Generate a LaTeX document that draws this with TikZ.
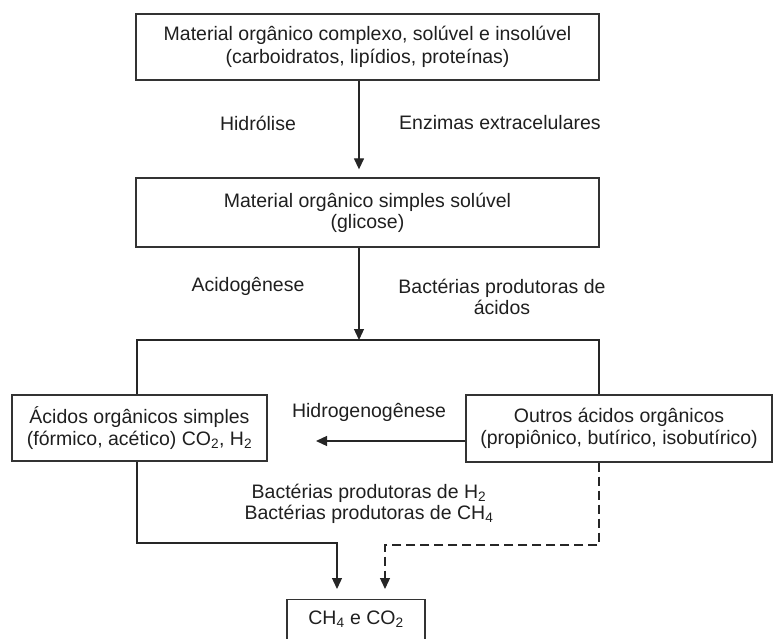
\documentclass[tikz,border=0pt]{standalone}
\usepackage{fontspec}
\setmainfont{Liberation Sans}
\usetikzlibrary{arrows.meta,calc}
\begin{document}
\begin{tikzpicture}[x=1pt,y=-1pt,
  txt/.style={font=\fontsize{19.5}{22.5}\selectfont, text=black!88},
  box/.style={txt, draw=black!80, line width=1.3pt, align=center, inner sep=0pt},
  lbl/.style={txt, align=center, inner sep=0pt},
  conn/.style={line width=1.3pt, draw=black!85},
  arr/.style={conn, -{Triangle[width=10pt,length=11pt]}},
  dashconn/.style={dash pattern=on 9pt off 5pt}]
\useasboundingbox (0,0) rectangle (774,639);
\clip (0,0) rectangle (774,639);
% boxes
\node[box, minimum width=463pt, minimum height=66pt] (top) at (367.5,47)
  {Material orgânico complexo, solúvel e insolúvel\\(carboidratos, lipídios, proteínas)};
\node[box, minimum width=463pt, minimum height=69pt] (mid) at (367.5,212.5)
  {Material orgânico simples solúvel\\[-1.5pt](glicose)};
\node[box, minimum width=255pt, minimum height=66pt] (left) at (139.5,428)
  {Ácidos orgânicos simples\\(fórmico, acético) CO\textsubscript{2}, H\textsubscript{2}};
\node[box, minimum width=306pt, minimum height=67pt] (right) at (619,428.5)
  {Outros ácidos orgânicos\\(propiônico, butírico, isobutírico)};
\node[box, minimum width=138pt, text height=25pt, text depth=27pt, anchor=north] (ch4) at (356,599)
  {CH\textsubscript{4} e CO\textsubscript{2}};
% labels
\node[lbl] (hid) at (258,123) {Hidrólise};
\node[lbl] (enz) at (500,123) {Enzimas extracelulares};
\node[lbl] (acid) at (248,286) {Acidogênese};
\node[lbl] (bpa) at (502,296.5) {Bactérias produtoras de\\[-1.5pt]ácidos};
\node[lbl] (hgn) at (369,412) {Hidrogenogênese};
\node[lbl] (bph) at (369,503.5) {Bactérias produtoras de H\textsubscript{2}\\[-1.5pt]Bactérias produtoras de CH\textsubscript{4}};
% coordinates
\coordinate (h1) at (359,340);
\coordinate (jl) at (137,340);
\coordinate (jr) at (599,340);
\coordinate (hg) at (316,441);
\coordinate (bl) at (137,543);
\coordinate (br) at (599,545);
\coordinate (ch4l) at (337,589);
\coordinate (ch4r) at (385,589);
% connectors
\draw[arr] (top.south -| h1) -- ([yshift=8pt]mid.north -| h1);
\draw[arr] (mid.south -| h1) -- (h1);
\draw[conn] (left.north -| jl) -- (jl) -- (jr) -- (right.north -| jr);
\draw[arr] (right.west |- hg) -- (hg);
\draw[arr] (left.south -| bl) -- (bl) -| (ch4l);
\draw[arr, dashconn] (right.south -| br) -- (br) -| (ch4r);
\end{tikzpicture}
\end{document}
